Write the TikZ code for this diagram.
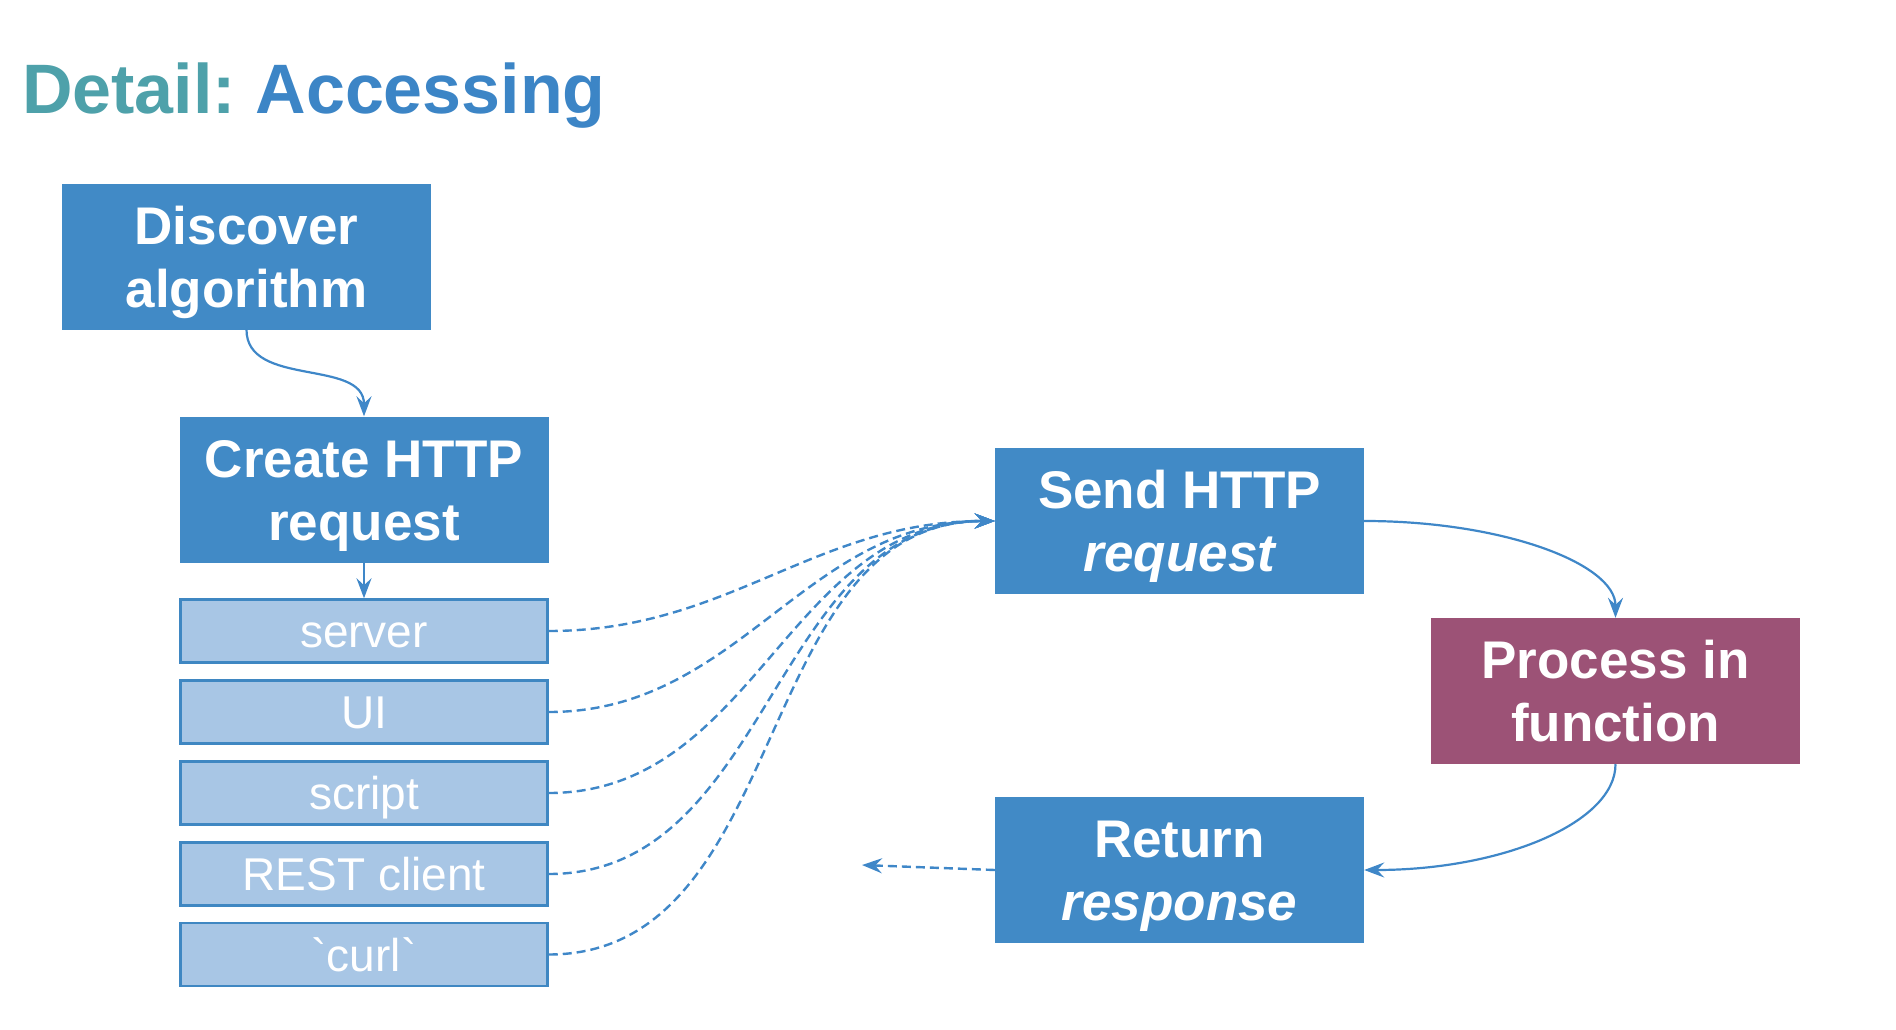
\documentclass[tikz,border=0pt]{standalone}
\usepackage{fontspec}
\setmainfont{Liberation Sans}
\newfontfamily\rawsans{Liberation Sans}
\usetikzlibrary{arrows.meta}
\definecolor{boxblue}{RGB}{65,138,198}
\definecolor{procred}{RGB}{156,82,118}
\definecolor{subfill}{RGB}{168,198,229}
\definecolor{subline}{RGB}{63,135,194}
\definecolor{lineblue}{RGB}{63,135,200}
\definecolor{titleteal}{RGB}{78,161,170}
\definecolor{titleblue}{RGB}{60,133,198}
\newcommand{\twoline}[2]{\rule{0pt}{38pt}#1\\\smash{#2}}
\tikzset{
  mainbox/.style={fill=boxblue, draw=none, minimum width=369pt, minimum height=146pt,
    inner sep=0pt, align=center, text=white, font=\fontsize{53}{63}\selectfont\bfseries},
  subbox/.style={fill=subfill, draw=subline, line width=2.5pt, minimum width=367pt,
    minimum height=63pt, inner sep=0pt, text=white, font=\fontsize{46}{55}\selectfont,
    text height=33pt, text depth=0pt},
  conn/.style={draw=lineblue, line width=2.2pt, -{Stealth[length=20pt,width=15pt,inset=7pt]}},
  dconn/.style={conn, line width=2.4pt, dash pattern=on 9pt off 5pt}
}
\begin{document}
\begin{tikzpicture}[x=1pt,y=-1pt]
\useasboundingbox (0,0) rectangle (1896,1030);
\node[anchor=base west, inner sep=0pt, font=\fontsize{70}{84}\selectfont\bfseries] (title) at (22,114)
  {\frenchspacing\textcolor{titleteal}{Detail:}\ \textcolor{titleblue}{Accessing}};

\node[mainbox] (disc) at (246.5,256.5) {\twoline{Discover}{algorithm}};
\node[mainbox] (create) at (364,489.5) {\twoline{Create HTTP}{request}};
\node[mainbox] (send) at (1179.5,521) {\twoline{Send HTTP}{\itshape request}};
\node[mainbox, fill=procred] (proc) at (1615.5,691) {\twoline{Process in}{function}};
\node[mainbox] (ret) at (1179.5,870) {\twoline{Return}{\itshape response}};

\node[subbox] (server) at (364,631) {server};
\node[subbox] (ui) at (364,712) {UI};
\node[subbox] (script) at (364,793) {script};
\node[subbox] (rest) at (364,874) {REST client};
\node[subbox] (curl) at (364,954.5) {{\rawsans`}curl{\rawsans`}};

\coordinate (back) at (862,865);

\draw[conn] (disc.south) .. controls +(0,58) and +(0,-58) .. (create.north);
\draw[conn] (create.south) -- (server.north);
\draw[conn] (send.east) .. controls +(139,0) and +(0,-54) .. (proc.north);
\draw[conn] (proc.south) .. controls +(0,58) and +(139,0) .. (ret.east);

\draw[dconn] (server.east) .. controls +(180,0) and +(-180,0) .. (send.west);
\draw[dconn] (ui.east) .. controls +(190,0) and +(-190,0) .. (send.west);
\draw[dconn] (script.east) .. controls +(206,0) and +(-206,0) .. (send.west);
\draw[dconn] (rest.east) .. controls +(223,0) and +(-223,0) .. (send.west);
\draw[dconn] (curl.east) .. controls +(244,0) and +(-244,0) .. (send.west);
\draw[dconn] (ret.west) -- (back);
\end{tikzpicture}
\end{document}
